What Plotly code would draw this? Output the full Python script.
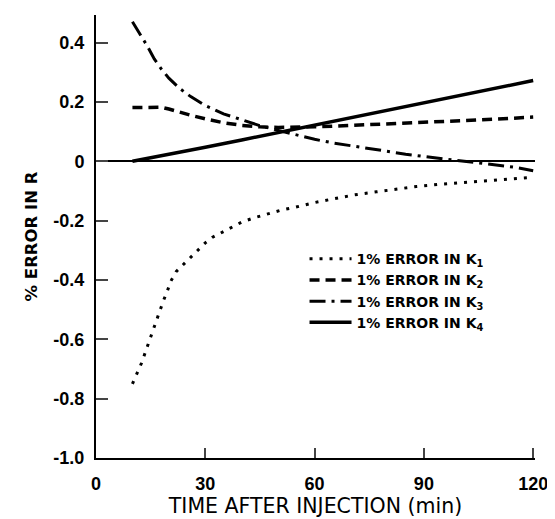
import plotly.graph_objects as go

# Time after injection (min) and % error in R for each parameter
t_k1 = [10, 11.5, 12.5, 13.5, 14.5, 15.5, 16.5, 17.5, 18.5, 19.5, 20.5, 22, 24, 26, 28, 30, 32,
        35, 37.5, 40, 43, 46, 48.5, 51, 54, 60, 65, 71, 77, 82, 88, 94, 100, 105, 111, 117, 120]
k1 = [-0.75, -0.71, -0.68, -0.645, -0.61, -0.572, -0.54, -0.505, -0.47, -0.44, -0.405, -0.372,
      -0.347, -0.322, -0.298, -0.275, -0.256, -0.237, -0.219, -0.205, -0.192, -0.181, -0.171,
      -0.164, -0.157, -0.139, -0.127, -0.113, -0.103, -0.094, -0.085, -0.078, -0.072, -0.067,
      -0.062, -0.057, -0.054]

t_k2 = [10, 13, 16, 18, 20, 23, 26, 30, 35, 40, 45, 50, 55, 60, 70, 80, 90, 100, 110, 120]
k2 = [0.181, 0.182, 0.184, 0.182, 0.176, 0.165, 0.155, 0.143, 0.130, 0.121, 0.116, 0.114,
      0.114, 0.116, 0.121, 0.126, 0.131, 0.136, 0.142, 0.149]

t_k3 = [10, 12, 14, 16, 18, 20, 23, 26, 30, 35, 40, 45, 50, 55, 60, 65, 70, 75, 80, 85, 90,
        95, 100, 105, 110, 115, 120]
k3 = [0.47, 0.43, 0.39, 0.345, 0.31, 0.28, 0.245, 0.218, 0.188, 0.160, 0.140, 0.120, 0.104,
      0.089, 0.074, 0.062, 0.052, 0.042, 0.032, 0.024, 0.016, 0.009, 0.003, -0.004, -0.012,
      -0.020, -0.032]

t_k4 = [10, 20, 30, 40, 50, 60, 70, 80, 90, 100, 110, 120]
k4 = [0.0, 0.022, 0.047, 0.072, 0.097, 0.121, 0.146, 0.170, 0.195, 0.220, 0.246, 0.272]

x_ticks = [0, 30, 60, 90, 120]
y_ticks = [-1.0, -0.8, -0.6, -0.4, -0.2, 0, 0.2, 0.4]
y_tick_labels = ["-1.0", "-0.8", "-0.6", "-0.4", "-0.2", "0", "0.2", "0.4"]

names = ["1% ERROR IN K<sub>1</sub>", "1% ERROR IN K<sub>2</sub>",
         "1% ERROR IN K<sub>3</sub>", "1% ERROR IN K<sub>4</sub>"]

fig = go.Figure()
fig.add_trace(go.Scatter(x=t_k1, y=k1, mode="lines", name=names[0],
                         line=dict(color="black", width=3, dash="3px,7px")))
fig.add_trace(go.Scatter(x=t_k2, y=k2, mode="lines", name=names[1],
                         line=dict(color="black", width=3.5, dash="10px,6px")))
fig.add_trace(go.Scatter(x=t_k3, y=k3, mode="lines", name=names[2],
                         line=dict(color="black", width=3, dash="16px,6px,3px,6px")))
fig.add_trace(go.Scatter(x=t_k4, y=k4, mode="lines", name=names[3],
                         line=dict(color="black", width=3.5)))

fig.update_layout(
    width=547, height=511,
    margin=dict(l=88, r=20, t=7, b=61),
    paper_bgcolor="white", plot_bgcolor="white",
    font=dict(family="Liberation Sans, Arial, sans-serif", color="black"),
    showlegend=True,
    legend=dict(x=0.475, y=0.485, xanchor="left", yanchor="top",
                font=dict(family="DejaVu Sans", size=14, weight="bold"), itemwidth=42,
                bgcolor="rgba(0,0,0,0)", tracegroupgap=0),
    xaxis=dict(range=[0, 120.5], tickvals=x_ticks, ticks="inside", ticklen=10, tickwidth=2,
               showline=True, linewidth=2, linecolor="black", showgrid=False, zeroline=False,
               automargin=False, tickfont=dict(size=18, weight="bold"), ticklabelstandoff=8,
               title=dict(text="TIME AFTER INJECTION (min)",
                          font=dict(family="DejaVu Sans", size=20.5), standoff=4)),
    yaxis=dict(range=[-1.0, 0.493], tickvals=y_ticks, ticktext=y_tick_labels, ticks="inside",
               ticklen=12, tickwidth=2, showline=True, linewidth=2, linecolor="black",
               showgrid=False, zeroline=True, zerolinecolor="black", zerolinewidth=2,
               automargin=False, tickfont=dict(size=18, weight="bold"), ticklabelstandoff=6,
               title=dict(text="% ERROR IN R",
                          font=dict(family="DejaVu Sans", size=16.5, weight="bold"), standoff=12)),
)

fig.write_html("out.html")
